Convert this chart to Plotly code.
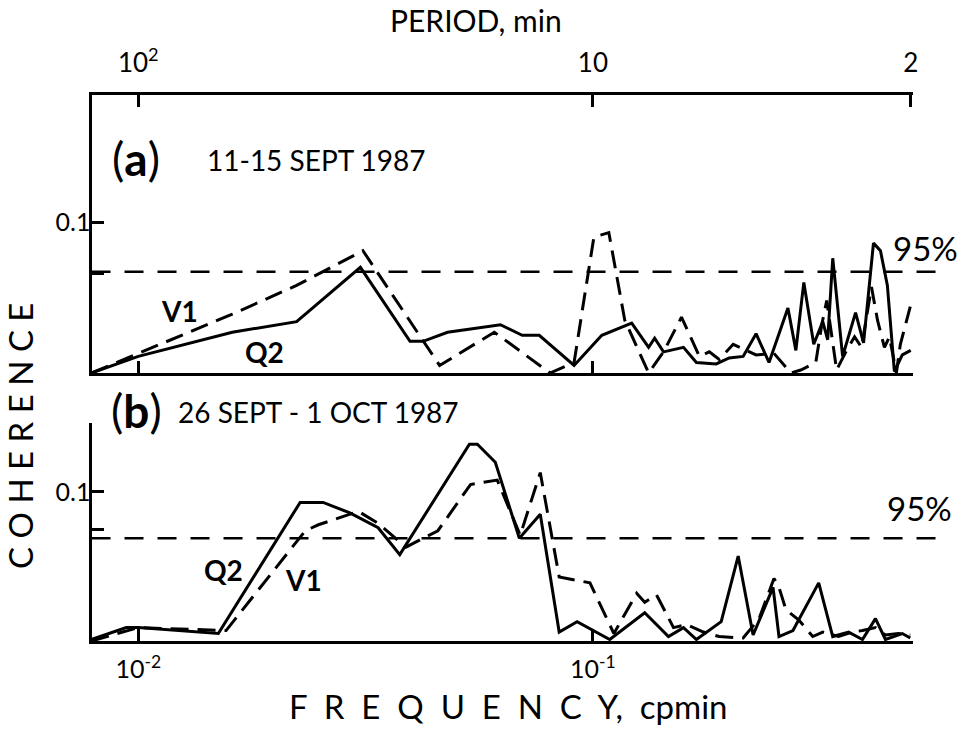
import math
import plotly.graph_objects as go

# ---------------- data ----------------
# (a) 11-15 Sept 1987
a_q2_freq = [0.00789, 0.0100, 0.0161, 0.0223, 0.0308, 0.0396, 0.0423, 0.0479, 0.0626,
             0.0699, 0.0762, 0.0909, 0.1046, 0.1217, 0.1326, 0.1367, 0.1430, 0.1582,
             0.1689, 0.1867, 0.1994, 0.2140, 0.2285, 0.2440, 0.2685, 0.2795, 0.2910,
             0.3060, 0.3203, 0.3284, 0.3369, 0.3542, 0.3782, 0.3938, 0.4141, 0.4290,
             0.4443, 0.4603, 0.4792, 0.5000]
a_q2_coh = [0.000, 0.011, 0.027, 0.034, 0.070, 0.021, 0.021, 0.027, 0.032,
            0.025, 0.025, 0.005, 0.025, 0.033, 0.017, 0.023, 0.014, 0.017,
            0.007, 0.006, 0.010, 0.011, 0.026, 0.007, 0.043, 0.015, 0.060,
            0.019, 0.034, 0.022, 0.076, 0.011, 0.040, 0.020, 0.086, 0.081,
            0.058, 0.001, 0.012, 0.015]

a_v1_freq = [0.00789, 0.0161, 0.0223, 0.0312, 0.0460, 0.0607, 0.0805, 0.0909, 0.1005,
             0.1084, 0.1175, 0.1326, 0.1430, 0.1566, 0.1715, 0.1803, 0.1896, 0.2035,
             0.2285, 0.2502, 0.2725, 0.2866, 0.3092, 0.3187, 0.3268, 0.3351, 0.3436,
             0.3614, 0.3763, 0.3898, 0.4100, 0.4226, 0.4377, 0.4489, 0.4650, 0.4745,
             0.4989]
a_v1_coh = [0.000, 0.039, 0.058, 0.081, 0.005, 0.027, 0.000, 0.007, 0.090,
            0.093, 0.035, 0.000, 0.014, 0.037, 0.011, 0.014, 0.009, 0.019,
            0.012, 0.013, 0.000, 0.002, 0.007, 0.032, 0.048, 0.025, 0.002,
            0.015, 0.024, 0.017, 0.057, 0.035, 0.017, 0.024, 0.000, 0.019,
            0.044]
a_level95 = 0.067

# (b) 26 Sept - 1 Oct 1987
b_q2_freq = [0.00789, 0.00941, 0.0100, 0.0150, 0.0227, 0.0255, 0.0292, 0.0337, 0.0376,
             0.0535, 0.0557, 0.0610, 0.0689, 0.0766, 0.0843, 0.0923, 0.1089, 0.1300,
             0.1466, 0.1582, 0.1689, 0.1915, 0.2087, 0.2251, 0.2490, 0.2566, 0.2754,
             0.3138, 0.3369, 0.3651, 0.3917, 0.4183, 0.4399, 0.4792, 0.4989]
b_q2_coh = [0.001, 0.009, 0.009, 0.005, 0.093, 0.093, 0.086, 0.076, 0.058,
            0.132, 0.132, 0.120, 0.069, 0.085, 0.006, 0.013, 0.001, 0.019,
            0.003, 0.009, 0.001, 0.013, 0.057, 0.004, 0.036, 0.003, 0.007,
            0.039, 0.003, 0.006, 0.001, 0.015, 0.001, 0.005, 0.002]

b_v1_freq = [0.00789, 0.0100, 0.0156, 0.0233, 0.0249, 0.0305, 0.0337, 0.0388, 0.0456,
             0.0538, 0.0616, 0.0692, 0.0766, 0.0843, 0.0985, 0.1112, 0.1248, 0.1300,
             0.1380, 0.1504, 0.1606, 0.1750, 0.1896, 0.2140, 0.2320, 0.2502, 0.2566,
             0.2658, 0.2838, 0.3045, 0.3203, 0.3471, 0.3725, 0.3917, 0.4183, 0.4399,
             0.4697, 0.4989]
b_v1_coh = [0.000, 0.009, 0.007, 0.074, 0.078, 0.087, 0.079, 0.063, 0.074,
            0.105, 0.108, 0.071, 0.113, 0.043, 0.039, 0.005, 0.032, 0.026,
            0.031, 0.009, 0.011, 0.006, 0.003, 0.002, 0.015, 0.042, 0.036,
            0.021, 0.014, 0.003, 0.006, 0.003, 0.006, 0.007, 0.009, 0.004,
            0.005, 0.004]
b_level95 = 0.069

freq_ticks = [0.01, 0.1]
freq_ticktext = ["10<sup>-2</sup>", "10<sup>-1</sup>"]
period_tickfreq = [0.01, 0.1, 0.5]
period_ticktext = ["10<sup>2</sup>", "10", "2"]

# ---------------- layout helpers ----------------
W, H = 968, 743


def px(x):
    return x / W


def py(y):
    return 1 - y / H


FONT = "Lato"
INK = "black"
xrange_log = [-2.1028, -0.2954]

fig = go.Figure()

solid = dict(color=INK, width=3)
dashed = dict(color=INK, width=3, dash="18px,9px")

fig.add_trace(go.Scatter(x=a_q2_freq, y=a_q2_coh, mode="lines", line=solid,
                         xaxis="x", yaxis="y", showlegend=False))
fig.add_trace(go.Scatter(x=a_v1_freq, y=a_v1_coh, mode="lines", line=dashed,
                         xaxis="x", yaxis="y", showlegend=False))
fig.add_trace(go.Scatter(x=b_q2_freq, y=b_q2_coh, mode="lines", line=solid,
                         xaxis="x2", yaxis="y2", showlegend=False))
fig.add_trace(go.Scatter(x=b_v1_freq, y=b_v1_coh, mode="lines", line=dashed,
                         xaxis="x2", yaxis="y2", showlegend=False))
# carrier for the period axis along the top
fig.add_trace(go.Scatter(x=period_tickfreq, y=[0, 0, 0], mode="lines",
                         line=dict(width=0), opacity=0, hoverinfo="skip",
                         xaxis="x3", yaxis="y", showlegend=False))

axis_common = dict(showline=True, linewidth=3, linecolor=INK, ticks="inside",
                   ticklen=12, tickwidth=3, tickcolor=INK, showgrid=False,
                   zeroline=False, mirror=False)
xdom = [px(92), px(918)]

fig.update_layout(
    width=W, height=H, margin=dict(l=0, r=0, t=0, b=0),
    paper_bgcolor="white", plot_bgcolor="white",
    font=dict(family=FONT, color=INK),
    xaxis=dict(domain=xdom, anchor="y", type="log", range=xrange_log,
               tickvals=freq_ticks, showticklabels=False, **axis_common),
    xaxis2=dict(domain=xdom, anchor="y2", type="log", range=xrange_log,
                tickvals=freq_ticks, ticktext=freq_ticktext,
                tickfont=dict(size=25, family=FONT), ticklabelstandoff=4,
                **axis_common),
    xaxis3=dict(overlaying="x", anchor="y", side="top", type="log",
                range=xrange_log, tickvals=period_tickfreq,
                ticktext=period_ticktext, tickfont=dict(size=26, family=FONT),
                ticklabelstandoff=10, **axis_common),
    yaxis=dict(domain=[py(373), py(95)], anchor="x", range=[0, 0.1841],
               tickvals=[0.066, 0.1], ticktext=["", "0.1"],
               tickfont=dict(size=25, family=FONT), ticklabelstandoff=-7,
               **axis_common),
    yaxis2=dict(domain=[py(641), py(423)], anchor="x2", range=[0, 0.1463],
                tickvals=[0.075, 0.1], ticktext=["", "0.1"],
                tickfont=dict(size=25, family=FONT), ticklabelstandoff=-7,
                **axis_common),
)

# 95% significance levels
for lvl, yref in [(a_level95, "y"), (b_level95, "y2")]:
    fig.add_shape(type="line", xref="paper", yref=yref, x0=px(92), x1=px(943),
                  y0=lvl, y1=lvl, line=dict(color=INK, width=2.5, dash="19px,14px"))


def label(text, x, y, size, angle=0, bold=False):
    fig.add_annotation(text=f"<b>{text}</b>" if bold else text,
                       x=px(x), y=py(y), xref="paper", yref="paper",
                       xanchor="center", yanchor="middle", showarrow=False,
                       textangle=angle, font=dict(size=size, family=FONT, color=INK))


NB = "\u00a0 "
label("PERIOD, min", 478, 20, 30)
label(NB.join("FREQUENCY") + "," + "\u00a0\u00a0cpmin", 511, 706, 33)
label(" ".join("COHERENCE"), 20, 436, 33, angle=-90)

label("(<b>a</b>)", 137, 158, 46)
label("11-15 SEPT 1987", 318, 160, 28)
label("(<b>b</b>)", 137, 410, 46)
label("26 SEPT - 1 OCT 1987", 320, 412, 28)

label("95%", 930, 248, 33)
label("95%", 924, 508, 33)

label("V1", 180, 311, 28, bold=True)
label("Q2", 266, 352, 28, bold=True)
label("Q2", 225, 570, 28, bold=True)
label("V1", 305, 580, 28, bold=True)

fig.write_html("out.html")
